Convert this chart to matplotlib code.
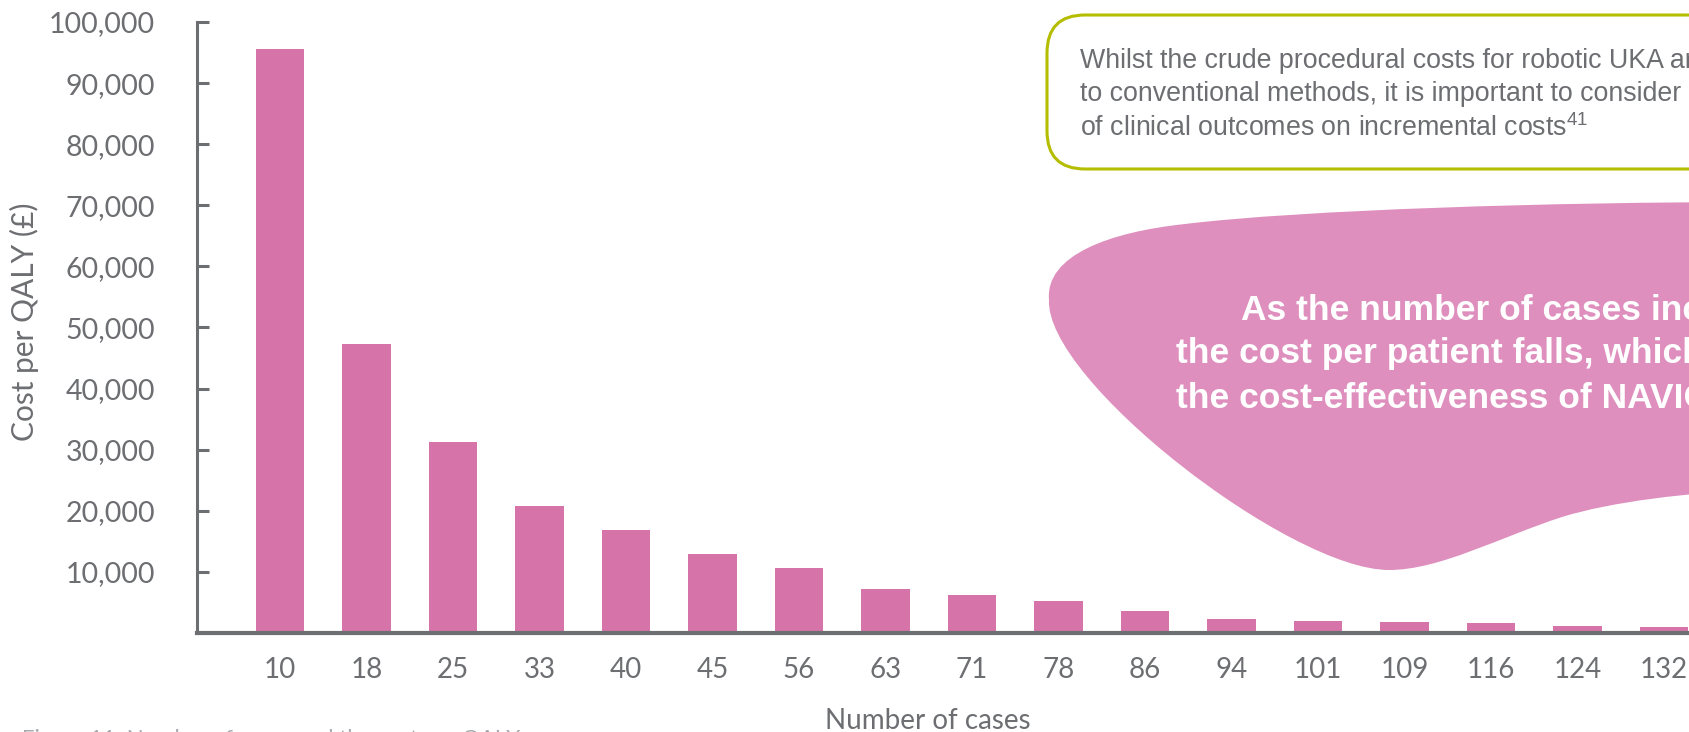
import matplotlib
matplotlib.use('Agg')
import matplotlib.pyplot as plt
from matplotlib import font_manager
from matplotlib.patches import FancyBboxPatch, PathPatch
from matplotlib.path import Path
from matplotlib.transforms import IdentityTransform

# ---------------- data ----------------
cases = ['10', '18', '25', '33', '40', '45', '56', '63', '71', '78',
         '86', '94', '101', '109', '116', '124', '132']
cost_per_qaly = [95600, 47300, 31300, 20800, 16900, 13000, 10700, 7200, 6150,
                 5250, 3550, 2250, 1900, 1750, 1600, 1100, 950]
y_ticks = [10000, 20000, 30000, 40000, 50000, 60000, 70000, 80000, 90000, 100000]
y_tick_labels = [f"{v:,}" for v in y_ticks]

box_text = ("Whilst the crude procedural costs for robotic UKA are higher compared\n"
            "to conventional methods, it is important to consider the impact\n"
            "of clinical outcomes on incremental costs$^{41}$")
blob_lines = ["As the number of cases increases,",
              "the cost per patient falls, which improves",
              "the cost-effectiveness of NAVIO"]

# ---------------- style ----------------
names = {f.name for f in font_manager.fontManager.ttflist}
narrow = 'Liberation Sans Narrow' if 'Liberation Sans Narrow' in names else 'Liberation Sans'
main_font = 'Lato' if 'Lato' in names else 'DejaVu Sans'
plt.rcParams['font.family'] = [main_font, 'DejaVu Sans']
plt.rcParams['mathtext.fontset'] = 'custom'
plt.rcParams['mathtext.rm'] = narrow
plt.rcParams['mathtext.it'] = narrow

GREY = '#6d6e71'
BAR = '#d673a9'
BLOB = '#de8fbd'
LIME = '#b5bd00'

W, H = 1689, 732
fig = plt.figure(figsize=(W / 100, H / 100), dpi=100)
ax = fig.add_axes([197 / W, 1 - 633 / H, 1 - 197 / W, (633 - 22) / H])

x = list(range(len(cases)))
ax.bar(x, cost_per_qaly, width=0.56, color=BAR, zorder=2)
ax.set_xlim(-0.96, 16.29)
ax.set_ylim(0, 100000)

for s in ('top', 'right'):
    ax.spines[s].set_visible(False)
ax.spines['left'].set_linewidth(2.2)
ax.spines['left'].set_color(GREY)
ax.spines['bottom'].set_linewidth(3.0)
ax.spines['bottom'].set_color(GREY)
for s in ax.spines.values():
    s.set_zorder(3)

ax.set_yticks(y_ticks)
ax.set_yticklabels(y_tick_labels)
ax.set_xticks(x)
ax.set_xticklabels(cases)
ax.tick_params(axis='y', direction='in', length=8.6, width=2.2, color=GREY,
               labelsize=20.5, labelcolor=GREY, pad=30)
ax.tick_params(axis='x', length=0, labelsize=20, labelcolor=GREY, pad=17)

fig.text(24 / W, 1 - 322 / H, 'Cost per QALY (£)', rotation=90, ha='center',
         va='center', color=GREY, fontsize=21.5)
fig.text(928 / W, 1 - 721 / H, 'Number of cases', ha='center', va='center',
         color=GREY, fontsize=20)

# cut-off caption at the bottom (only the tops of the letters are visible)
fig.text(22 / W, 1 - 729 / H, 'Figure 11: Number of cases and the cost per QALY',
         ha='left', va='top', color='#a7a9ac', fontsize=16)

# ---------------- annotation box ----------------
box = FancyBboxPatch((1047, H - 169), 800, 154,
                     boxstyle='round,pad=0,rounding_size=38',
                     transform=IdentityTransform(), ec=LIME, fc='white', lw=2.2,
                     zorder=5)
fig.add_artist(box)
fig.text(1080 / W, 1 - 95 / H, box_text, ha='left', va='center', color=GREY,
         fontsize=19.3, family=narrow, linespacing=1.32, zorder=6)

# ---------------- blob ----------------
pts = [
    ((1049, 300), Path.MOVETO),
    ((1045, 255), Path.CURVE4), ((1110, 232), Path.CURVE4), ((1185, 224), Path.CURVE4),
    ((1300, 210), Path.CURVE4), ((1550, 202), Path.CURVE4), ((1760, 202), Path.CURVE4),
    ((1760, 490), Path.LINETO),
    ((1690, 492), Path.CURVE4), ((1610, 502), Path.CURVE4), ((1562, 517), Path.CURVE4),
    ((1500, 537), Path.CURVE4), ((1440, 570), Path.CURVE4), ((1389, 570), Path.CURVE4),
    ((1290, 570), Path.CURVE4), ((1045, 380), Path.CURVE4), ((1049, 300), Path.CURVE4),
    ((1049, 300), Path.CLOSEPOLY),
]
verts = [(px, H - py) for (px, py), _ in pts]
codes = [c for _, c in pts]
blob = PathPatch(Path(verts, codes), transform=IdentityTransform(), fc=BLOB,
                 ec='none', zorder=5)
fig.add_artist(blob)

blob_pos = [(1241, 310), (1176, 354), (1176, 398)]
for line, (bx, by) in zip(blob_lines, blob_pos):
    fig.text(bx / W, 1 - by / H, line, ha='left', va='center', color='white',
             fontsize=25.5, fontweight='bold', family=narrow, zorder=6)

fig.savefig('out.png', dpi=100)
